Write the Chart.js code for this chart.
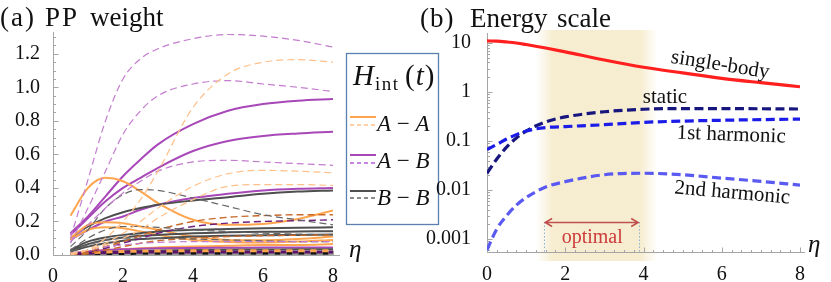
<!DOCTYPE html>
<html>
<head>
<meta charset="utf-8">
<script src="https://cdn.jsdelivr.net/npm/chart.js@4.4.0/dist/chart.umd.min.js"></script>
<style>
  html, body { margin: 0; padding: 0; background: #fff; }
  #wrap { position: relative; width: 831px; height: 282px; overflow: hidden; }
  #boxA { position: absolute; left: 0; top: 0; width: 445px; height: 282px; }
  #boxB { position: absolute; left: 415px; top: 0; width: 416px; height: 282px; }
</style>
</head>
<body>
<div id="wrap">
  <div id="boxA"><canvas id="weightChart"></canvas></div>
  <div id="boxB"><canvas id="energyChart"></canvas></div>
</div>
<script>
// x samples
const etaA = [0.5, 1, 1.5, 2, 2.5, 3, 4, 5, 6, 7, 8];
const etaB = [0, 0.25, 0.5, 0.75, 1, 1.5, 2, 3, 4, 5, 6, 7, 8];

// tick labels
const xTicks = [0, 2, 4, 6, 8];
const weightTicks = [0, 0.2, 0.4, 0.6, 0.8, 1.0, 1.2];
const energyTicks = [0.001, 0.01, 0.1, 1, 10];

// (a) PP weight, A-A (orange)
const aaSolid1 = [0.235, 0.40, 0.46, 0.44, 0.38, 0.31, 0.21, 0.18, 0.185, 0.215, 0.265];
const aaSolid2 = [0.10, 0.18, 0.195, 0.19, 0.17, 0.15, 0.11, 0.09, 0.088, 0.095, 0.11];
const aaSolid3 = [0.09, 0.15, 0.165, 0.16, 0.14, 0.12, 0.09, 0.078, 0.075, 0.08, 0.09];
const aaSolid4 = [0.01, 0.02, 0.03, 0.035, 0.04, 0.045, 0.05, 0.055, 0.06, 0.06, 0.065];
const aaDash1 = [0.0, 0.03, 0.10, 0.20, 0.33, 0.50, 0.88, 1.08, 1.15, 1.165, 1.15];
const aaDash2 = [0.01, 0.03, 0.07, 0.13, 0.20, 0.28, 0.41, 0.485, 0.505, 0.50, 0.49];
const aaDash3 = [0.005, 0.03, 0.06, 0.10, 0.15, 0.22, 0.33, 0.41, 0.42, 0.42, 0.415];
const aaDash4 = [0.0, 0.02, 0.05, 0.08, 0.115, 0.15, 0.20, 0.225, 0.235, 0.24, 0.24];
const aaDash5 = [0.0, 0.01, 0.03, 0.05, 0.07, 0.085, 0.10, 0.11, 0.115, 0.118, 0.12];

// A-B (purple)
const abSolid1 = [0.13, 0.23, 0.35, 0.47, 0.57, 0.66, 0.78, 0.86, 0.90, 0.92, 0.93];
const abSolid2 = [0.12, 0.22, 0.32, 0.40, 0.46, 0.52, 0.62, 0.68, 0.71, 0.725, 0.735];
const abSolid3 = [0.09, 0.15, 0.20, 0.23, 0.27, 0.30, 0.34, 0.365, 0.385, 0.395, 0.40];
const abSolid4 = [0.01, 0.02, 0.03, 0.035, 0.038, 0.04, 0.042, 0.043, 0.044, 0.045, 0.045];
const abDash1 = [0.10, 0.45, 0.80, 1.05, 1.17, 1.23, 1.29, 1.315, 1.305, 1.28, 1.24];
const abDash2 = [0.07, 0.28, 0.50, 0.72, 0.86, 0.95, 1.02, 1.04, 1.02, 1.0, 0.975];
const abDash3 = [0.08, 0.18, 0.28, 0.37, 0.44, 0.50, 0.555, 0.565, 0.555, 0.545, 0.535];
const abDash4 = [0.01, 0.03, 0.05, 0.06, 0.07, 0.075, 0.08, 0.08, 0.08, 0.08, 0.08];
const abDash5 = [0.0, 0.02, 0.04, 0.07, 0.10, 0.13, 0.17, 0.19, 0.20, 0.205, 0.21];

// B-B (gray)
const bbSolid1 = [0.10, 0.17, 0.22, 0.255, 0.28, 0.30, 0.325, 0.345, 0.365, 0.378, 0.385];
const bbSolid2 = [0.03, 0.08, 0.105, 0.12, 0.13, 0.14, 0.15, 0.155, 0.16, 0.163, 0.165];
const bbSolid3 = [0.025, 0.065, 0.09, 0.105, 0.115, 0.12, 0.13, 0.135, 0.138, 0.14, 0.142];
const bbSolid4 = [0.02, 0.05, 0.07, 0.085, 0.095, 0.10, 0.11, 0.115, 0.118, 0.12, 0.122];
const bbSolid5 = [0.005, 0.012, 0.018, 0.022, 0.025, 0.027, 0.03, 0.032, 0.033, 0.034, 0.035];
const bbDash1 = [0.05, 0.15, 0.28, 0.36, 0.39, 0.385, 0.34, 0.29, 0.24, 0.21, 0.18];
const bbDash2 = [0.03, 0.10, 0.15, 0.17, 0.17, 0.165, 0.15, 0.14, 0.13, 0.125, 0.12];
const bbDash3 = [0.02, 0.06, 0.09, 0.10, 0.10, 0.10, 0.095, 0.09, 0.085, 0.08, 0.08];

// tiny weights piled up near zero
const lowBlack = [0.003, 0.006, 0.008, 0.009, 0.01, 0.01, 0.011, 0.011, 0.011, 0.011, 0.011];
const lowPurple = [0.004, 0.01, 0.014, 0.016, 0.017, 0.018, 0.018, 0.018, 0.018, 0.018, 0.018];
const lowGray = [0.002, 0.004, 0.005, 0.005, 0.005, 0.005, 0.005, 0.005, 0.005, 0.005, 0.005];
const lowOrange = [0.005, 0.012, 0.018, 0.021, 0.023, 0.024, 0.025, 0.025, 0.025, 0.025, 0.025];

// (b) Energy scale
const singleBody = [11, 10.9, 10.5, 10.0, 9.3, 7.9, 6.6, 4.5, 3.2, 2.45, 1.9, 1.55, 1.28];
const staticPart = [0.022, 0.043, 0.075, 0.115, 0.16, 0.245, 0.31, 0.395, 0.445, 0.46, 0.46, 0.455, 0.45];
const harmonic1 = [0.067, 0.085, 0.11, 0.135, 0.16, 0.188, 0.197, 0.215, 0.24, 0.255, 0.265, 0.273, 0.28];
const harmonic2 = [0.0006, 0.0016, 0.003, 0.0049, 0.007, 0.0115, 0.0148, 0.0205, 0.022, 0.0205, 0.0175, 0.015, 0.0126];

const serif = '"Liberation Serif", "DejaVu Serif", serif';
const orange = '#ffa54f', orangeLight = '#ffc08a', orangeDark = '#c8692a';
const purple = '#a848b8', purpleLight = '#c47ccf', purpleDark = '#6e1f7e';
const gray = '#4f4f4f', grayDash = '#666666';
const axisColor = '#a5a5a5';

const pts = (xs, ys) => xs.map((x, i) => ({ x, y: ys[i] }));

function curve(xs, ys, color, width, dash, offset) {
  return {
    data: pts(xs, ys),
    borderColor: color,
    borderWidth: width,
    borderDash: dash || [],
    borderDashOffset: offset || 0,
    pointRadius: 0,
    cubicInterpolationMode: 'monotone',
    fill: false
  };
}

const dash = [7, 4];

const weightSets = [
  curve(etaA, aaDash1, orangeLight, 1.2, dash),
  curve(etaA, aaDash2, orangeLight, 1.2, dash),
  curve(etaA, aaDash3, orangeLight, 1.2, dash),
  curve(etaA, abDash1, purpleLight, 1.2, dash),
  curve(etaA, abDash2, purpleLight, 1.2, dash),
  curve(etaA, abDash3, purpleLight, 1.2, dash),
  curve(etaA, abDash4, purpleLight, 1.2, dash),
  curve(etaA, bbDash1, grayDash, 1.2, dash),
  curve(etaA, bbDash2, grayDash, 1.2, dash),
  curve(etaA, bbDash3, grayDash, 1.2, dash),
  curve(etaA, aaDash4, orangeDark, 1.4, dash),
  curve(etaA, aaDash5, orangeDark, 1.4, dash),
  curve(etaA, abDash5, purpleDark, 1.4, dash),
  curve(etaA, lowOrange, orange, 3, [6, 6]),
  curve(etaA, lowPurple, '#5a1366', 3, [6, 6], 6),
  curve(etaA, lowBlack, '#111111', 3, [6, 6]),
  curve(etaA, lowGray, '#9a9a9a', 3, [6, 6], 6),
  curve(etaA, bbSolid5, gray, 2, []),
  curve(etaA, abSolid4, purple, 2, []),
  curve(etaA, aaSolid4, orange, 2, []),
  curve(etaA, bbSolid2, gray, 2, []),
  curve(etaA, bbSolid3, gray, 2, []),
  curve(etaA, bbSolid4, gray, 2, []),
  curve(etaA, aaSolid2, orange, 2, []),
  curve(etaA, aaSolid3, orange, 2, []),
  curve(etaA, bbSolid1, gray, 2, []),
  curve(etaA, aaSolid1, orange, 2, []),
  curve(etaA, abSolid3, purple, 2, []),
  curve(etaA, abSolid2, purple, 2, []),
  curve(etaA, abSolid1, purple, 2, [])
];

const energySets = [
  curve(etaB, harmonic2, '#5a5af2', 3.2, [9, 4.5]),
  curve(etaB, harmonic1, '#1c1ce8', 3.2, [9, 4.5]),
  curve(etaB, staticPart, '#16167e', 3.2, [9, 4.5]),
  curve(etaB, singleBody, '#ff1f1f', 3.2, [])
];

// draw a row of text pieces, each with its own font
function runs(ctx, x, y, parts) {
  parts.forEach(([t, f, dy]) => {
    ctx.font = f;
    ctx.fillText(t, x, y + (dy || 0));
    x += ctx.measureText(t).width;
  });
  return x;
}

function rotText(ctx, text, x, y, deg, font, color) {
  ctx.save();
  ctx.translate(x, y);
  ctx.rotate(deg * Math.PI / 180);
  ctx.font = font;
  ctx.fillStyle = color;
  ctx.textAlign = 'center';
  ctx.textBaseline = 'middle';
  ctx.fillText(text, 0, 0);
  ctx.restore();
}

function drawTicks(ctx, x, y, x0, y0, yMinor) {
  ctx.beginPath();
  for (let v = 0; v <= 8.001; v += 0.25) {
    const px = Math.round(x.getPixelForValue(v)) + 0.5;
    const len = v % 2 === 0 ? 5 : 2.5;
    ctx.moveTo(px, y0);
    ctx.lineTo(px, y0 - len);
  }
  yMinor.forEach(([v, major]) => {
    const py = Math.round(y.getPixelForValue(v)) + 0.5;
    ctx.moveTo(x0, py);
    ctx.lineTo(x0 + (major ? 5 : 2.5), py);
  });
  ctx.stroke();
}

// Mathematica-like axes for panel (a) + title + legend box
const weightDecor = {
  id: 'weightDecor',
  beforeDatasetsDraw(chart) {
    const { ctx, chartArea: a, scales: { x, y } } = chart;
    const x0 = Math.round(x.getPixelForValue(0)) + 0.5;
    const y0 = Math.round(y.getPixelForValue(0)) + 0.5;
    ctx.save();
    ctx.strokeStyle = axisColor;
    ctx.lineWidth = 1;
    ctx.beginPath();
    ctx.moveTo(x0, y0); ctx.lineTo(a.right + 7, y0);
    ctx.moveTo(x0, y0); ctx.lineTo(x0, a.top);
    ctx.stroke();
    const yMinor = [];
    for (let i = 0; i <= 26; i++) yMinor.push([i * 0.05, i % 4 === 0]);
    drawTicks(ctx, x, y, x0, y0, yMinor);
    ctx.restore();
  },
  afterDraw(chart) {
    const { ctx, chartArea: a } = chart;
    ctx.save();
    ctx.fillStyle = '#111';
    ctx.textBaseline = 'alphabetic';
    ctx.letterSpacing = '2px';
    runs(ctx, 0, 26, [['(a)', '27px ' + serif]]);
    runs(ctx, 45, 26, [['PP', '27px ' + serif]]);
    ctx.letterSpacing = '0px';
    runs(ctx, 90, 26, [['weight', '27px ' + serif]]);
    runs(ctx, a.right + 16, 257, [['η', 'italic 25px ' + serif]]);

    // legend box
    ctx.strokeStyle = '#5b80ad';
    ctx.lineWidth = 1.3;
    ctx.fillStyle = '#fff';
    ctx.fillRect(346.5, 53.5, 92, 171);
    ctx.strokeRect(346.5, 53.5, 92, 171);
    ctx.fillStyle = '#111';
    runs(ctx, 353, 85, [['H', 'italic 29px ' + serif]]);
    ctx.letterSpacing = '1.5px';
    runs(ctx, 375, 90, [['int', '19px ' + serif]]);
    ctx.letterSpacing = '1px';
    runs(ctx, 405, 85, [['(', '29px ' + serif], ['t', 'italic 29px ' + serif], [')', '29px ' + serif]]);
    ctx.letterSpacing = '0px';

    const rows = [
      [117, 125, 131, orange, orangeLight, 'A', 'A'],
      [155, 163, 168, purple, '#b55cd6', 'A', 'B'],
      [191, 198, 205, gray, grayDash, 'B', 'B']
    ];
    rows.forEach(([ys, yd, yt, cs, cd, l, r]) => {
      ctx.lineWidth = 2;
      ctx.strokeStyle = cs;
      ctx.setLineDash([]);
      ctx.beginPath(); ctx.moveTo(350, ys); ctx.lineTo(376, ys); ctx.stroke();
      ctx.lineWidth = 1.3;
      ctx.strokeStyle = cd;
      ctx.setLineDash([4, 3]);
      ctx.beginPath(); ctx.moveTo(350, yd); ctx.lineTo(376, yd); ctx.stroke();
      ctx.setLineDash([]);
      ctx.fillStyle = '#111';
      runs(ctx, 377, yt, [[l, 'italic 23px ' + serif], [' \u2212 ', '23px ' + serif], [r, 'italic 23px ' + serif]]);
    });
    ctx.restore();
  }
};

// panel (b): optimal band, axes, labels
const bandFrom = 1.25, bandTo = 4.35;
const arrowFrom = 1.46, arrowTo = 3.89, arrowLevel = 0.00222;

const energyDecor = {
  id: 'energyDecor',
  beforeDatasetsDraw(chart) {
    const { ctx, chartArea: a, scales: { x, y } } = chart;
    ctx.save();
    const bl = x.getPixelForValue(bandFrom), br = x.getPixelForValue(bandTo);
    const g = ctx.createLinearGradient(bl, 0, br, 0);
    g.addColorStop(0, 'rgba(236,214,150,0)');
    g.addColorStop(0.14, 'rgba(236,214,150,0.45)');
    g.addColorStop(0.86, 'rgba(236,214,150,0.45)');
    g.addColorStop(1, 'rgba(236,214,150,0)');
    ctx.fillStyle = g;
    ctx.fillRect(bl, a.top - 3, br - bl, a.bottom - a.top + 12);

    const x0 = Math.round(x.getPixelForValue(0)) + 0.5;
    const y0 = Math.round(a.bottom) + 0.5;
    ctx.strokeStyle = axisColor;
    ctx.lineWidth = 1;
    ctx.beginPath();
    ctx.moveTo(x0, y0); ctx.lineTo(a.right + 5, y0);
    ctx.moveTo(x0, y0); ctx.lineTo(x0, a.top);
    ctx.stroke();
    const yMinor = [];
    for (let e = -4; e <= 1; e++) {
      for (let m = 1; m <= 9; m++) {
        const v = m * Math.pow(10, e);
        if (v >= y.min && v <= y.max) yMinor.push([v, m === 1]);
      }
    }
    drawTicks(ctx, x, y, x0, y0, yMinor);

    // dotted markers of the optimal window
    const ya = y.getPixelForValue(arrowLevel);
    ctx.strokeStyle = '#8fb0d0';
    ctx.setLineDash([1.5, 2]);
    [arrowFrom, arrowTo].forEach(v => {
      const px = Math.round(x.getPixelForValue(v)) + 0.5;
      ctx.beginPath(); ctx.moveTo(px, ya); ctx.lineTo(px, y0); ctx.stroke();
    });
    ctx.restore();
  },
  afterDraw(chart) {
    const { ctx, chartArea: a, scales: { x, y } } = chart;
    ctx.save();
    ctx.fillStyle = '#111';
    ctx.textBaseline = 'alphabetic';
    ctx.letterSpacing = '1px';
    runs(ctx, 5, 27, [['(b)', '27px ' + serif]]);
    ctx.letterSpacing = '0px';
    runs(ctx, 55, 27, [['Energy', '27px ' + serif]]);
    runs(ctx, 142, 27, [['scale', '27px ' + serif]]);
    runs(ctx, a.right + 8, 252, [['η', 'italic 25px ' + serif]]);

    const f = '21px ' + serif;
    rotText(ctx, 'single-body', x.getPixelForValue(5.96), y.getPixelForValue(3.56), 9, f, '#111');
    rotText(ctx, 'static', x.getPixelForValue(4.55), y.getPixelForValue(0.755), 0, f, '#111');
    rotText(ctx, '1st harmonic', x.getPixelForValue(6.24), y.getPixelForValue(0.132), 2, f, '#111');
    rotText(ctx, '2nd harmonic', x.getPixelForValue(6.27), y.getPixelForValue(0.0087), 5, f, '#111');
    rotText(ctx, 'optimal', x.getPixelForValue(2.69), y.getPixelForValue(0.00105), 0, '20px ' + serif, '#cc3b3b');

    // double arrow
    const ya = Math.round(y.getPixelForValue(arrowLevel)) + 0.5;
    const l = x.getPixelForValue(arrowFrom) + 1, r = x.getPixelForValue(arrowTo) - 1;
    ctx.strokeStyle = '#c0504d';
    ctx.lineWidth = 1.5;
    ctx.beginPath();
    ctx.moveTo(l, ya); ctx.lineTo(r, ya);
    ctx.moveTo(l + 7, ya - 4); ctx.lineTo(l, ya); ctx.lineTo(l + 7, ya + 4);
    ctx.moveTo(r - 7, ya - 4); ctx.lineTo(r, ya); ctx.lineTo(r - 7, ya + 4);
    ctx.stroke();
    ctx.restore();
  }
};

const tickFont = { family: serif, size: 20 };

new Chart(document.getElementById('weightChart'), {
  type: 'line',
  data: { datasets: weightSets },
  options: {
    responsive: true,
    maintainAspectRatio: false,
    animation: false,
    layout: { padding: { top: 32, right: 112, left: 0, bottom: 0 } },
    plugins: { legend: { display: false }, tooltip: { enabled: false } },
    scales: {
      x: {
        type: 'linear', min: 0, max: 8,
        afterBuildTicks: s => { s.ticks = xTicks.map(v => ({ value: v })); },
        afterFit: s => { s.height = 27; },
        grid: { display: false }, border: { display: false },
        ticks: { font: tickFont, color: '#111', padding: 2, maxRotation: 0 }
      },
      y: {
        type: 'linear', min: 0, max: 1.33,
        afterBuildTicks: s => { s.ticks = weightTicks.map(v => ({ value: v })); },
        afterFit: s => { s.width = 53; },
        grid: { display: false }, border: { display: false },
        ticks: { font: tickFont, color: '#111', padding: 5, callback: v => v.toFixed(1) }
      }
    }
  },
  plugins: [weightDecor]
});

new Chart(document.getElementById('energyChart'), {
  type: 'line',
  data: { datasets: energySets },
  options: {
    responsive: true,
    maintainAspectRatio: false,
    animation: false,
    layout: { padding: { top: 33, right: 31, left: 0, bottom: 0 } },
    plugins: { legend: { display: false }, tooltip: { enabled: false } },
    scales: {
      x: {
        type: 'linear', min: 0, max: 8,
        afterBuildTicks: s => { s.ticks = xTicks.map(v => ({ value: v })); },
        afterFit: s => { s.height = 30; },
        grid: { display: false }, border: { display: false },
        ticks: { font: tickFont, color: '#111', padding: 3, maxRotation: 0 }
      },
      y: {
        type: 'logarithmic', min: Math.pow(10, -3.265), max: Math.pow(10, 1.204),
        afterBuildTicks: s => { s.ticks = energyTicks.map(v => ({ value: v })); },
        afterFit: s => { s.width = 72; },
        grid: { display: false }, border: { display: false },
        ticks: { font: tickFont, color: '#111', padding: 8, callback: v => String(v) }
      }
    }
  },
  plugins: [energyDecor]
});
</script>
</body>
</html>
